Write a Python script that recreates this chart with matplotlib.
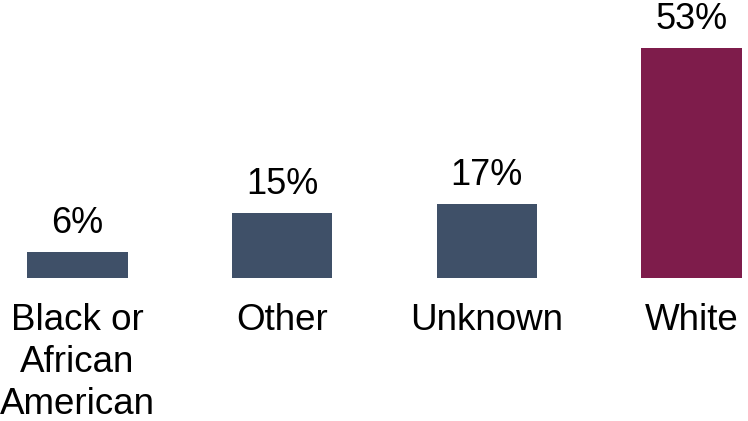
import matplotlib.pyplot as plt

# data
categories = ['Black or\nAfrican\nAmerican', 'Other', 'Unknown', 'White']
values = [6, 15, 17, 53]
colors = ['#3F5068', '#3F5068', '#3F5068', '#7E1C4B']

plt.rcParams['font.family'] = ['Liberation Sans', 'DejaVu Sans']

fig = plt.figure(figsize=(7.48, 4.21), dpi=100)
# axes spans from the baseline (y=143px from bottom) to the top
ax = fig.add_axes([0, 143 / 421, 1, 278 / 421])

x = range(len(categories))
bars = ax.bar(x, values, width=0.49, color=colors)
ax.bar_label(bars, labels=[f'{v}%' for v in values], padding=8, fontsize=26)

ax.set_xlim(-0.3787, 3.276)
ax.set_ylim(0, 64.06)
ax.set_xticks(list(x))
ax.set_xticklabels(categories, fontsize=26.5, linespacing=1.25, va='top')
ax.tick_params(axis='x', length=0, pad=18)
ax.set_yticks([])
for s in ax.spines.values():
    s.set_visible(False)

fig.savefig('out.png', dpi=100)
